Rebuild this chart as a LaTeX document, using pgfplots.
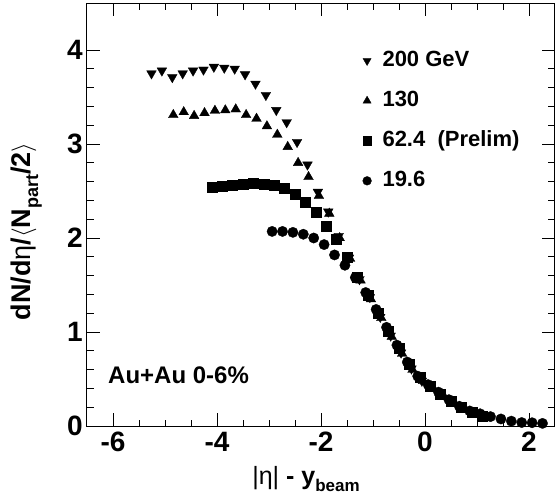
\documentclass[border=0pt]{standalone}
\usepackage{fontspec}
\setmainfont{Liberation Sans}
\usepackage{pgfplots}
\pgfplotsset{compat=1.18}
\pgfplotstableread{
x y
-5.26 3.75
-5.06 3.78
-4.86 3.71
-4.66 3.75
-4.46 3.78
-4.26 3.79
-4.06 3.82
-3.86 3.81
-3.66 3.80
-3.46 3.74
-3.26 3.64
-3.06 3.52
-2.86 3.36
-2.66 3.23
-2.46 3.02
-2.26 2.78
-2.06 2.49
-1.86 2.28
-1.66 2.02
-1.46 1.79
-1.26 1.56
-1.06 1.37
-0.86 1.16
-0.66 0.96
-0.46 0.78
-0.26 0.61
-0.06 0.48
}\dataA
\pgfplotstableread{
x y
-4.84 3.31
-4.64 3.34
-4.44 3.30
-4.24 3.33
-4.04 3.355
-3.84 3.36
-3.64 3.37
-3.44 3.31
-3.24 3.27
-3.04 3.19
-2.84 3.10
-2.64 2.97
-2.44 2.80
-2.24 2.65
-2.04 2.45
-1.84 2.26
-1.64 2.00
-1.44 1.78
-1.24 1.55
-1.04 1.35
-0.84 1.15
-0.64 0.95
-0.44 0.77
-0.24 0.60
-0.04 0.48
0.16 0.40
0.36 0.32
}\dataB
\pgfplotstableread{
x y
-4.10 2.54
-3.90 2.55
-3.70 2.56
-3.50 2.575
-3.30 2.585
-3.10 2.575
-2.90 2.565
-2.70 2.53
-2.50 2.47
-2.30 2.38
-2.10 2.27
-1.90 2.13
-1.70 1.99
-1.50 1.80
-1.30 1.58
-1.10 1.39
-0.90 1.20
-0.70 1.01
-0.50 0.83
-0.30 0.66
-0.10 0.52
0.10 0.42
0.30 0.34
0.50 0.26
0.70 0.20
0.90 0.15
1.10 0.11
}\dataC
\pgfplotstableread{
x y
-2.94 2.07
-2.74 2.07
-2.54 2.06
-2.34 2.04
-2.14 2.00
-1.94 1.93
-1.74 1.82
-1.54 1.71
-1.34 1.58
-1.14 1.42
-0.94 1.24
-0.74 1.05
-0.54 0.86
-0.34 0.68
-0.14 0.53
0.06 0.44
0.26 0.36
0.46 0.28
0.66 0.21
0.86 0.16
1.06 0.13
1.26 0.10
1.46 0.075
1.66 0.052
1.86 0.037
2.06 0.035
2.26 0.028
}\dataD
\begin{document}
\begin{tikzpicture}
\useasboundingbox (-87pt,-72pt) rectangle (469pt,426pt);
\begin{axis}[
  at={(0pt,0pt)}, anchor=south west,
  scale only axis, width=468pt, height=423pt,
  xmin=-6.5, xmax=2.5, ymin=0, ymax=4.5,
  xtick={-6,-4,-2,0,2}, minor x tick num=3,
  ytick={0,1,2,3,4}, minor y tick num=4,
  tick align=inside, major tick length=13pt, minor tick length=6.5pt,
  axis line style={line width=1pt},
  every tick/.style={black, line width=0.9pt},
  /pgf/number format/assume math mode=true,
  tick label style={font=\fontsize{28}{28}\selectfont\bfseries},
  xticklabel style={inner sep=0pt, yshift=-6pt},
  yticklabel style={inner sep=0pt, xshift=-4pt},
  every axis x label/.style={at={(axis description cs:0.468,-0.094)}, anchor=north, inner sep=0pt,
     font=\fontsize{25}{25}\selectfont\bfseries},
  every axis y label/.style={at={(axis description cs:-0.13,0.46)}, anchor=center, rotate=90, inner sep=0pt,
     font=\fontsize{27}{27}\selectfont\bfseries},
  xlabel={{\mdseries|η|} - y\raisebox{-0.3em}{\fontsize{17}{17}\selectfont beam}},
  ylabel={dN/d{\mdseries η}/$\langle$N\raisebox{-0.3em}{\fontsize{18}{18}\selectfont part}/2$\rangle$},
  legend cell align=left,
  legend style={draw=none, fill=none, at={(axis cs:-1.26,4.02)}, anchor=north west,
     font=\fontsize{22}{22}\selectfont\bfseries, row sep=19pt, column sep=9pt,
     nodes={text height=16pt, text depth=5pt, inner ysep=0pt}},
  legend image post style={scale=0.85},
]
\addplot[only marks, mark=triangle*, mark size=5.6pt, mark options={rotate=180, fill=black, draw=black, line width=0.3pt}] table {\dataA};
\addlegendentry{200 GeV}
\addplot[only marks, mark=triangle*, mark size=5.6pt, mark options={fill=black, draw=black, line width=0.3pt}] table {\dataB};
\addlegendentry{130}
\addplot[only marks, mark=square*, mark size=5pt, mark options={fill=black, draw=black, line width=0.3pt}] table {\dataC};
\addlegendentry{62.4\ \ (Prelim)}
\addplot[only marks, mark=*, mark size=5.2pt, mark options={fill=black, draw=black, line width=0.3pt}] table {\dataD};
\addlegendentry{19.6}
\node[anchor=base west, inner sep=0pt, font=\fontsize{24}{24}\selectfont\bfseries] at (axis cs:-6.096,0.457) {Au+Au 0-6\%};
\end{axis}
\end{tikzpicture}
\end{document}
